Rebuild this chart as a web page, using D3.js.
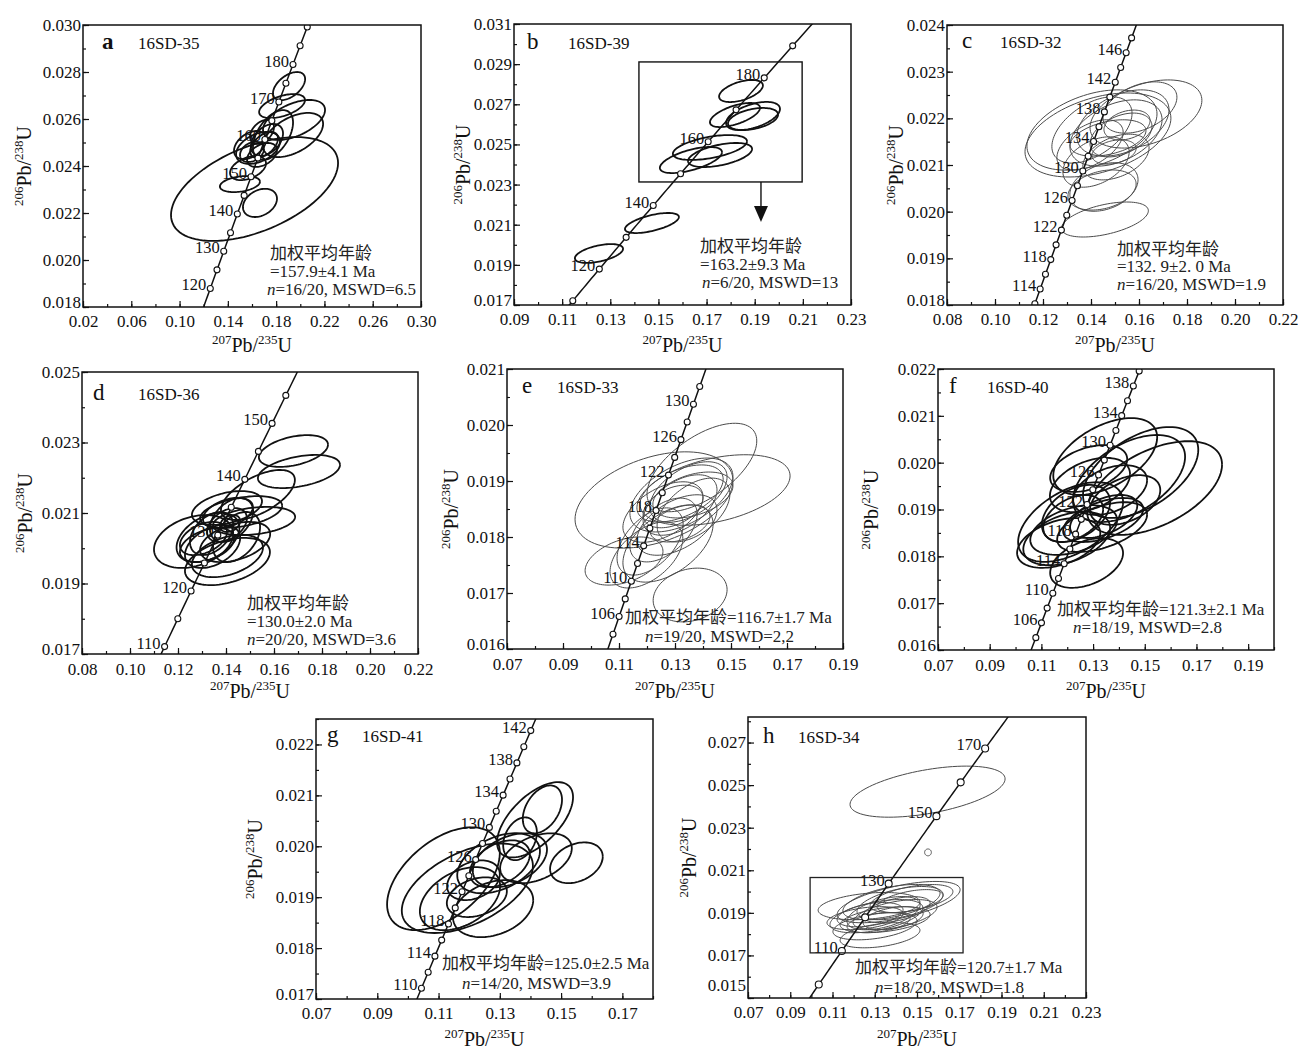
<!DOCTYPE html>
<html><head><meta charset="utf-8">
<script src="https://cdn.jsdelivr.net/npm/d3@7"></script>
<style>body{margin:0;background:#fff}</style>
</head><body><svg id="c" width="1298" height="1050"></svg>
<script>
// ---------------- DATA ----------------
const panelLetters = ["a","b","c","d","e","f","g","h"];
const samples = ["16SD-35","16SD-39","16SD-32","16SD-36","16SD-33","16SD-40","16SD-41","16SD-34"];

const xDomains = [[0.02,0.30],[0.09,0.23],[0.08,0.22],[0.08,0.22],[0.07,0.19],[0.07,0.20],[0.07,0.18],[0.07,0.23]];
const yDomains = [[0.018,0.030],[0.017,0.031],[0.018,0.024],[0.017,0.025],[0.016,0.021],[0.016,0.022],[0.017,0.0225],[0.015,0.0282]];

const xTicks = [
  [0.02,0.06,0.10,0.14,0.18,0.22,0.26,0.30],
  [0.09,0.11,0.13,0.15,0.17,0.19,0.21,0.23],
  [0.08,0.10,0.12,0.14,0.16,0.18,0.20,0.22],
  [0.08,0.10,0.12,0.14,0.16,0.18,0.20,0.22],
  [0.07,0.09,0.11,0.13,0.15,0.17,0.19],
  [0.07,0.09,0.11,0.13,0.15,0.17,0.19],
  [0.07,0.09,0.11,0.13,0.15,0.17],
  [0.07,0.09,0.11,0.13,0.15,0.17,0.19,0.21,0.23]
];
const yTicks = [
  [0.018,0.020,0.022,0.024,0.026,0.028,0.030],
  [0.017,0.019,0.021,0.023,0.025,0.027,0.029,0.031],
  [0.018,0.019,0.020,0.021,0.022,0.023,0.024],
  [0.017,0.019,0.021,0.023,0.025],
  [0.016,0.017,0.018,0.019,0.020,0.021],
  [0.016,0.017,0.018,0.019,0.020,0.021,0.022],
  [0.017,0.018,0.019,0.020,0.021,0.022],
  [0.015,0.017,0.019,0.021,0.023,0.025,0.027]
];
const xMinorStep = [0.02,0.01,0.01,0.01,0.01,0.01,0.01,0.01];
const yMinorStep = [0.001,0.001,0.0005,0.001,0.0005,0.0005,0.0005,0.001];

// concordia marker ages (Ma) and labelled ages
const concAges = [
  [120,125,130,135,140,145,150,155,160,165,170,175,180,185,190],
  [110,120,130,140,150,160,170,180,190],
  [112,114,116,118,120,122,124,126,128,130,132,134,136,138,140,142,144,146,148],
  [110,115,120,125,130,135,140,145,150,155],
  [104,106,108,110,112,114,116,118,120,122,124,126,128,130,132],
  [104,106,108,110,112,114,116,118,120,122,124,126,128,130,132,134,136,138,140],
  [110,112,114,116,118,120,122,124,126,128,130,132,134,136,138,140,142],
  [100,110,120,130,150,160,170]
];
const concLabels = [
  [120,130,140,150,160,170,180],
  [120,140,160,180],
  [114,118,122,126,130,134,138,142,146],
  [110,120,130,140,150],
  [106,110,114,118,122,126,130],
  [106,110,114,118,122,126,130,134,138],
  [110,114,118,122,126,130,134,138,142],
  [110,130,150,170]
];
// offset of the drawn concordia relative to the axes [dx, dy]
const concShift = [[0,0],[0,0],[0,0.0005],[0,0],[0,0],[0,0],[-0.010,0],[0,0]];

// error ellipses: [207Pb/235U, 206Pb/238U, half-range x, half-range y, rho]
const ell_a = [
[0.1621,0.02302,0.0692,0.00221,0.50],[0.1666,0.02243,0.0141,0.00060,0.30],[0.1500,0.02323,0.0166,0.00034,0.30],
[0.1567,0.02391,0.0149,0.00051,0.40],[0.1907,0.02740,0.0133,0.00060,0.50],[0.1849,0.02655,0.0190,0.00051,0.50],
[0.1948,0.02596,0.0257,0.00085,0.50],[0.1940,0.02532,0.0249,0.00094,0.50],[0.1774,0.02532,0.0166,0.00106,0.50],
[0.1650,0.02477,0.0182,0.00068,0.40],[0.1683,0.02447,0.0124,0.00051,0.40],[0.1584,0.02489,0.0133,0.00060,0.40],
[0.1724,0.02511,0.0133,0.00068,0.40],[0.1683,0.02545,0.0099,0.00051,0.40],[0.1600,0.02460,0.0099,0.00043,0.30],
[0.1700,0.02490,0.0115,0.00055,0.50]];
const ell_b = [
[0.1253,0.019566,0.0100,0.00047,0.5],[0.1473,0.021085,0.0112,0.00050,0.6],[0.1635,0.024224,0.0129,0.00065,0.6],
[0.1714,0.024847,0.0154,0.00062,0.5],[0.1756,0.024473,0.0133,0.00060,0.5],[0.1818,0.026466,0.0104,0.00060,0.6],
[0.1893,0.026417,0.0112,0.00070,0.5],[0.1893,0.026267,0.0104,0.00055,0.4],[0.1843,0.027662,0.0091,0.00055,0.5]];
const ell_c = [
[0.1458,0.019832,0.0181,0.000375,0.5],[0.1454,0.020529,0.0142,0.00052,0.3],[0.1446,0.020464,0.0142,0.00043,0.3],
[0.1429,0.021643,0.0304,0.00090,0.4],[0.1404,0.021750,0.0271,0.00086,0.4],[0.1629,0.022093,0.0233,0.00073,0.4],
[0.1604,0.022232,0.0154,0.00055,0.4],[0.1525,0.021643,0.0129,0.00047,0.4],[0.1550,0.021857,0.0096,0.00032,0.3],
[0.1496,0.021279,0.0092,0.00026,0.3],[0.1396,0.021429,0.0138,0.00054,0.5],[0.1404,0.021750,0.0167,0.00071,0.5],
[0.1504,0.021686,0.0192,0.00071,0.4],[0.1533,0.021900,0.0192,0.00071,0.4],[0.1421,0.021064,0.0138,0.00054,0.4],
[0.1504,0.021171,0.0138,0.00049,0.4],[0.1471,0.021579,0.0158,0.00039,0.4]];
const ell_d = [
[0.1681,0.022759,0.0144,0.00045,0.4],[0.1704,0.022177,0.0171,0.00047,0.4],[0.1533,0.021511,0.0154,0.00071,0.6],
[0.1404,0.021142,0.0146,0.00048,0.4],[0.1517,0.020773,0.0171,0.00040,0.3],[0.1463,0.021028,0.0171,0.00045,0.4],
[0.1265,0.020191,0.0165,0.00075,0.3],[0.1325,0.020305,0.0131,0.00070,0.4],[0.1406,0.019624,0.0177,0.00067,0.4],
[0.1406,0.019780,0.0148,0.00060,0.4],[0.1344,0.020050,0.0115,0.00061,0.4],[0.1340,0.020418,0.0090,0.00061,0.4],
[0.1423,0.020800,0.0090,0.00062,0.4],[0.1444,0.020319,0.0098,0.00071,0.4],[0.1404,0.020660,0.0083,0.00048,0.4],
[0.1417,0.020702,0.0042,0.00024,0.3],[0.1306,0.020276,0.0098,0.00047,0.4],[0.1438,0.020177,0.0146,0.00057,0.4],
[0.1408,0.021000,0.0104,0.00043,0.4],[0.1321,0.020092,0.0113,0.00048,0.4]];
const ell_e = [
[0.1396,0.019241,0.0196,0.00079,0.6],[0.1225,0.018661,0.0282,0.00086,0.4],[0.1443,0.018839,0.0268,0.00063,0.4],
[0.1354,0.016964,0.0132,0.00048,0.2],[0.1118,0.017571,0.0139,0.00043,0.4],[0.1198,0.017679,0.0130,0.00059,0.5],
[0.1275,0.017884,0.0161,0.00069,0.5],[0.1323,0.018750,0.0184,0.00066,0.5],[0.1318,0.018777,0.0154,0.00051,0.5],
[0.1348,0.018804,0.0138,0.00054,0.5],[0.1318,0.018571,0.0132,0.00054,0.5],[0.1257,0.018446,0.0143,0.00054,0.5],
[0.1307,0.018214,0.0143,0.00054,0.5],[0.1366,0.018482,0.0130,0.00057,0.5],[0.1259,0.018125,0.0120,0.00057,0.5],
[0.1211,0.017920,0.0118,0.00060,0.5],[0.1364,0.018750,0.0143,0.00041,0.4],[0.1293,0.018545,0.0107,0.00038,0.4],
[0.1318,0.018241,0.0107,0.00033,0.4]];
const ell_f = [
[0.1538,0.019459,0.0261,0.00100,0.5],[0.1484,0.019790,0.0223,0.00097,0.5],[0.1439,0.019662,0.0217,0.00093,0.5],
[0.1347,0.020132,0.0201,0.00082,0.5],[0.1283,0.019875,0.0149,0.00050,0.4],[0.1366,0.019416,0.0143,0.00053,0.4],
[0.1213,0.018733,0.0203,0.00085,0.5],[0.1234,0.018915,0.0132,0.00061,0.4],[0.1167,0.018285,0.0161,0.00053,0.4],
[0.1198,0.018381,0.0168,0.00057,0.4],[0.1225,0.018562,0.0168,0.00053,0.4],[0.1275,0.017858,0.0141,0.00053,0.4],
[0.1335,0.018626,0.0174,0.00053,0.5],[0.1339,0.018776,0.0155,0.00047,0.5],[0.1341,0.018851,0.0130,0.00046,0.5],
[0.1288,0.019523,0.0155,0.00058,0.4],[0.1223,0.018808,0.0116,0.00050,0.4],[0.1424,0.019203,0.0136,0.00053,0.4]];
const ell_g = [
[0.1116,0.019363,0.0184,0.00101,0.5],[0.1194,0.019176,0.0214,0.00088,0.5],[0.1415,0.020520,0.0124,0.00074,0.6],
[0.1439,0.020725,0.0064,0.00047,0.4],[0.1550,0.019676,0.0086,0.00040,0.3],[0.1418,0.019765,0.0117,0.00049,0.4],
[0.1296,0.019667,0.0135,0.00059,0.4],[0.1333,0.019725,0.0121,0.00053,0.4],[0.1366,0.020147,0.0055,0.00042,0.3],
[0.1278,0.018775,0.0131,0.00056,0.3],[0.1225,0.019000,0.0098,0.00039,0.3],[0.1214,0.019333,0.0086,0.00039,0.3],
[0.1170,0.018971,0.0131,0.00062,0.4],[0.1300,0.019657,0.0098,0.00046,0.4]];
const ell_h = [
[0.1550,0.024693,0.0367,0.00120,0.5],[0.1552,0.021840,0.0016,0.00016,0.0],[0.1273,0.019316,0.0241,0.00064,0.3],
[0.1413,0.019505,0.0291,0.00097,0.6],[0.1379,0.019505,0.0230,0.00083,0.5],[0.1308,0.018844,0.0220,0.00078,0.5],
[0.1325,0.017948,0.0189,0.00059,0.4],[0.1301,0.018373,0.0199,0.00064,0.4],[0.1420,0.019458,0.0204,0.00078,0.5],
[0.1349,0.018679,0.0213,0.00061,0.4],[0.1342,0.018986,0.0173,0.00078,0.5],[0.1396,0.018915,0.0199,0.00071,0.5],
[0.1254,0.018750,0.0180,0.00054,0.4],[0.1403,0.019151,0.0159,0.00061,0.5],[0.1474,0.019670,0.0196,0.00066,0.5],
[0.1318,0.018538,0.0149,0.00047,0.4],[0.1467,0.019552,0.0156,0.00054,0.5],[0.1278,0.018915,0.0156,0.00057,0.4],
[0.1387,0.018750,0.0142,0.00054,0.4]];
const ellipses = [ell_a, ell_b, ell_c, ell_d, ell_e, ell_f, ell_g, ell_h];

const notes = [
  ["加权平均年龄","=157.9±4.1 Ma","n=16/20, MSWD=6.5"],
  ["加权平均年龄","=163.2±9.3 Ma","n=6/20, MSWD=13"],
  ["加权平均年龄","=132. 9±2. 0 Ma","n=16/20, MSWD=1.9"],
  ["加权平均年龄","=130.0±2.0 Ma","n=20/20, MSWD=3.6"],
  ["加权平均年龄=116.7±1.7 Ma","n=19/20, MSWD=2,2"],
  ["加权平均年龄=121.3±2.1 Ma","n=18/19, MSWD=2.8"],
  ["加权平均年龄=125.0±2.5 Ma","n=14/20, MSWD=3.9"],
  ["加权平均年龄=120.7±1.7 Ma","n=18/20, MSWD=1.8"]
];

// inset boxes [x0, x1, y0, y1] in data units
const insetB = [0.1419, 0.2097, 0.02313, 0.02911];
const arrowB = [0.1926, 0.02313, 0.02114]; // x, from y, to y
const insetH = [0.0994, 0.1718, 0.01712, 0.02066];

// ---------------- LAYOUT ----------------
const boxes = [[83,25,421,307],[514,24,851,305],[947,25,1283,305],[82,372,418,654],
               [507,369,843,649],[938,369,1274,650],[316,719,653,999],[748,717,1086,998]];
const letterOff = [[19,24],[13,25],[15,23],[11,28],[15,24],[11,24],[11,23],[15,26]];
const nameOff = [55,54,53,56,50,49,46,50];
const notePos = [
  [[270,259],[270,277],[267,295]],
  [[700,252],[700,270],[702,288]],
  [[1117,255],[1117,272],[1117,290]],
  [[247,609],[247,627],[247,645]],
  [[625,623],[645,642]],
  [[1057,615],[1073,633]],
  [[442,969],[462,989]],
  [[855,973],[875,993]]
];
const yTitleX = [31,470,903,32,458,878,262,696];
const xTitleY = [352,352,352,698,698,698,1046,1046];
const xPad = [8,8,8,9,9,9,8,8];
const thick = [true,true,false,true,false,true,true,false];

const SERIF = "'Liberation Serif','Times New Roman',serif";
const MIXED = "'Liberation Serif','Noto Sans CJK SC',serif";
const L238 = 1.55125e-10, L235 = 9.8485e-10;
const conc = t => [Math.exp(L235 * t * 1e6) - 1, Math.exp(L238 * t * 1e6) - 1];

const svg = d3.select("#c");
svg.append("rect").attr("width",1298).attr("height",1050).attr("fill","#fff");
const defs = svg.append("defs");

function styleAxis(g, size){
  g.select(".domain").remove();
  g.selectAll(".tick line").attr("stroke","#111").attr("stroke-width",1.2);
  g.selectAll(".tick text").attr("font-family",SERIF).attr("font-size",size).attr("fill","#111");
}

panelLetters.forEach((id, i) => {
  const [L,T,R,B] = boxes[i];
  const x = d3.scaleLinear().domain(xDomains[i]).range([L,R]);
  const y = d3.scaleLinear().domain(yDomains[i]).range([B,T]);
  const g = svg.append("g").attr("class","panel-"+id);

  defs.append("clipPath").attr("id","clip"+i).append("rect")
    .attr("x",L).attr("y",T).attr("width",R-L).attr("height",B-T);

  // minor ticks
  const xm = d3.range(xDomains[i][0], xDomains[i][1] + 1e-9, xMinorStep[i]);
  const ym = d3.range(yDomains[i][0], yDomains[i][1] + 1e-9, yMinorStep[i]);
  g.append("g").attr("transform",`translate(0,${B})`)
    .call(d3.axisBottom(x).tickValues(xm).tickSize(-3).tickFormat(""))
    .call(a => styleAxis(a,17));
  g.append("g").attr("transform",`translate(${L},0)`)
    .call(d3.axisLeft(y).tickValues(ym).tickSize(-3).tickFormat(""))
    .call(a => styleAxis(a,17));
  // major ticks
  g.append("g").attr("transform",`translate(0,${B})`)
    .call(d3.axisBottom(x).tickValues(xTicks[i]).tickSize(-6).tickPadding(xPad[i]).tickFormat(d3.format(".2f")))
    .call(a => styleAxis(a,17));
  const ya = g.append("g").attr("transform",`translate(${L},0)`)
    .call(d3.axisLeft(y).tickValues(yTicks[i]).tickSize(-6).tickPadding(2).tickFormat(d3.format(".3f")))
    .call(a => styleAxis(a,17));
  // bottom-most y label sits slightly above its tick (as in the figure)
  ya.selectAll(".tick text").filter(d => Math.abs(d - yDomains[i][0]) < 1e-9)
    .attr("dy", id === "h" ? "-0.45em" : "0.05em");

  // ellipses
  const eg = g.append("g").attr("clip-path",`url(#clip${i})`);
  const line = d3.line();
  ellipses[i].forEach(e => {
    const [cx,cy,sx,sy,r] = e;
    const k = Math.sqrt(1 - r*r);
    const pts = d3.range(0, 97).map(j => {
      const t = j / 96 * 2 * Math.PI;
      return [x(cx + sx*Math.cos(t)), y(cy + sy*(r*Math.cos(t) + k*Math.sin(t)))];
    });
    eg.append("path").attr("d", line(pts)).attr("fill","none")
      .attr("stroke", thick[i] ? "#111" : "#4a4a4a")
      .attr("stroke-width", thick[i] ? 1.8 : 1.0);
  });

  // concordia
  const [dx,dy] = concShift[i];
  const ages = concAges[i];
  const a0 = d3.min(ages) - 25, a1 = d3.max(ages) + 25;
  const curve = d3.range(a0, a1 + 0.01, 1).map(t => { const c = conc(t); return [x(c[0]+dx), y(c[1]+dy)]; });
  eg.append("path").attr("d", line(curve)).attr("fill","none").attr("stroke","#111").attr("stroke-width",1.5);
  ages.forEach(t => {
    const c = conc(t);
    eg.append("circle").attr("cx",x(c[0]+dx)).attr("cy",y(c[1]+dy)).attr("r", id==="h"?3.5:3)
      .attr("fill","#fff").attr("stroke","#111").attr("stroke-width",1.1);
  });
  concLabels[i].forEach(t => {
    const c = conc(t);
    g.append("text").attr("x",x(c[0]+dx) - 4).attr("y",y(c[1]+dy) + 2)
      .attr("text-anchor","end").attr("font-family",SERIF).attr("font-size",16.5).attr("fill","#111").text(t);
  });

  // insets
  if (id === "b") {
    g.append("rect").attr("x",x(insetB[0])).attr("y",y(insetB[3]))
      .attr("width",x(insetB[1])-x(insetB[0])).attr("height",y(insetB[2])-y(insetB[3]))
      .attr("fill","none").attr("stroke","#111").attr("stroke-width",1.4);
    const ax = x(arrowB[0]), ay0 = y(arrowB[1]), ay1 = y(arrowB[2]);
    g.append("line").attr("x1",ax).attr("x2",ax).attr("y1",ay0).attr("y2",ay1-14)
      .attr("stroke","#111").attr("stroke-width",1.4);
    g.append("path").attr("d",`M${ax-7},${ay1-16}L${ax+7},${ay1-16}L${ax},${ay1}Z`).attr("fill","#111");
  }
  if (id === "h") {
    g.append("rect").attr("x",x(insetH[0])).attr("y",y(insetH[3]))
      .attr("width",x(insetH[1])-x(insetH[0])).attr("height",y(insetH[2])-y(insetH[3]))
      .attr("fill","none").attr("stroke","#222").attr("stroke-width",1.3);
  }

  // frame
  g.append("rect").attr("x",L).attr("y",T).attr("width",R-L).attr("height",B-T)
    .attr("fill","none").attr("stroke","#111").attr("stroke-width",1.5);

  // panel letter & sample
  g.append("text").attr("x",L+letterOff[i][0]).attr("y",T+letterOff[i][1])
    .attr("font-family",SERIF).attr("font-size",23).attr("fill","#111")
    .attr("font-weight", id==="a" ? "bold" : "normal").text(id);
  g.append("text").attr("x",L+nameOff[i]).attr("y",T+letterOff[i][1])
    .attr("font-family",SERIF).attr("font-size",17).attr("fill","#111").text(samples[i]);

  // notes
  notes[i].forEach((s, j) => {
    const t = g.append("text").attr("x",notePos[i][j][0]).attr("y",notePos[i][j][1])
      .attr("font-family",MIXED).attr("font-size",17).attr("fill","#222");
    if (s.startsWith("n=")) {
      t.append("tspan").attr("font-style","italic").text("n");
      t.append("tspan").text(s.slice(1));
    } else t.text(s);
  });

  // axis titles
  const xt = g.append("text").attr("x",(L+R)/2).attr("y",xTitleY[i]).attr("text-anchor","middle")
    .attr("font-family",SERIF).attr("fill","#111");
  xt.append("tspan").attr("font-size",13).attr("dy",-8).text("207");
  xt.append("tspan").attr("font-size",20).attr("dy",8).text("Pb/");
  xt.append("tspan").attr("font-size",13).attr("dy",-8).text("235");
  xt.append("tspan").attr("font-size",20).attr("dy",8).text("U");

  const yt = g.append("text").attr("transform",`translate(${yTitleX[i]},${(T+B)/2}) rotate(-90)`)
    .attr("text-anchor","middle").attr("font-family",SERIF).attr("fill","#111");
  yt.append("tspan").attr("font-size",13).attr("dy",-8).text("206");
  yt.append("tspan").attr("font-size",20).attr("dy",8).text("Pb/");
  yt.append("tspan").attr("font-size",13).attr("dy",-8).text("238");
  yt.append("tspan").attr("font-size",20).attr("dy",8).text("U");
});
</script></body></html>
